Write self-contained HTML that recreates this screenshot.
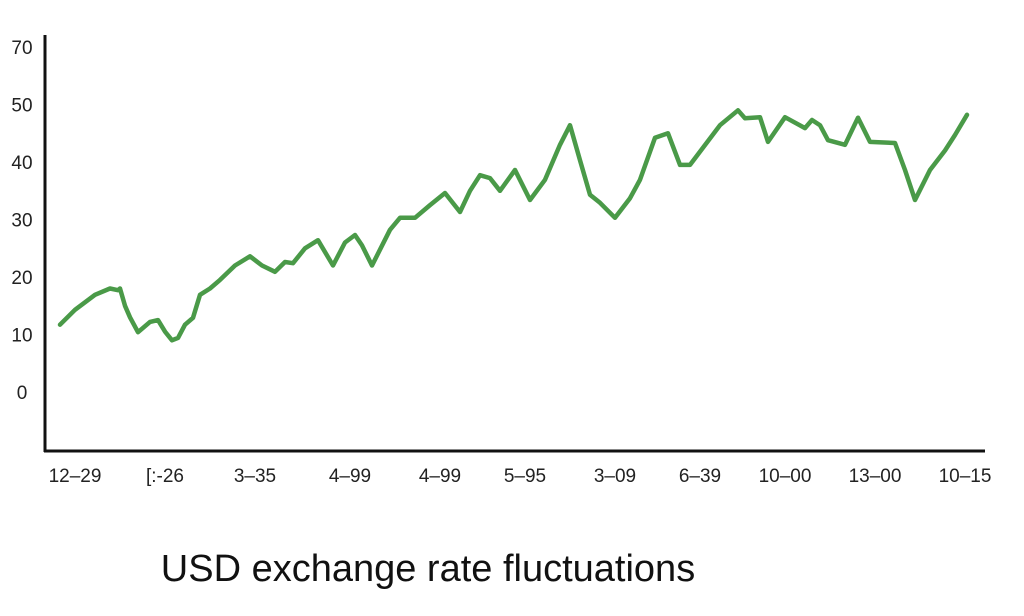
<!DOCTYPE html>
<html><head><meta charset="utf-8"><style>
html,body{margin:0;padding:0;background:#fff;}
svg{display:block;font-family:"Liberation Sans",sans-serif;}
</style></head><body>
<svg id="chart" width="1024" height="616" viewBox="0 0 1024 616">
<rect width="1024" height="616" fill="#fff"/>
<g id="axes"></g>
<g id="plot"></g>
<text x="428" y="581" text-anchor="middle" font-size="38" fill="#111">USD exchange rate fluctuations</text>
</svg>
<script>
const yTicks=[0,10,20,30,40,50,60];
const yTickLabels=["0","10","20","30","40","50","70"];
const xTickLabels=["12–29","[:-26","3–35","4–99","4–99","5–95","3–09","6–39","10–00","13–00","10–15"];
const xTickPos=[15,105,195,290,380,465,555,640,725,815,905];
const tValues=[0,15,35,50,58,60,65,70,78,90,98,105,112,118,125,133,140,150,160,175,190,202,215,225,233,245,258,273,285,295,302,312,330,340,355,370,385,400,410,420,430,440,455,470,485,500,510,520,530,540,555,570,580,595,608,620,630,660,678,685,700,708,725,745,752,760,768,785,798,810,835,845,855,870,885,895,907];
const rates=[11.7,14.3,16.9,18,17.7,18,15,13,10.4,12.2,12.5,10.5,9,9.4,11.7,12.9,16.9,18,19.5,22,23.6,22,20.9,22.6,22.4,25,26.4,22,26,27.3,25.5,22,28.2,30.3,30.3,32.5,34.6,31.3,35,37.7,37.2,35,38.6,33.4,36.9,43,46.4,40.3,34.3,32.9,30.3,33.7,36.9,44.2,45,39.5,39.5,46.4,49,47.6,47.8,43.5,47.8,45.9,47.3,46.4,43.8,43,47.7,43.5,43.3,38.6,33.4,38.6,42,44.7,48.2];
const NS="http://www.w3.org/2000/svg";
const X0=60,PX=1;
function xScale(t){return X0+t*PX;}
function yScale(v){return 392-v*5.75;}
const axes=document.getElementById('axes'),plot=document.getElementById('plot');
function mk(tag,attrs,parent){const e=document.createElementNS(NS,tag);for(const k in attrs)e.setAttribute(k,attrs[k]);parent.appendChild(e);return e;}
const ya=mk('line',{x1:45,y1:35,x2:45,y2:452,stroke:'#111','stroke-width':3},axes);


const xa=mk('line',{x1:44,y1:451,x2:985,y2:451,stroke:'#111','stroke-width':3},axes);


yTicks.forEach((v,i)=>{
  const t=mk('text',{x:22,y:yScale(v)+7,'text-anchor':'middle','font-size':19,fill:'#222'},axes);
  t.textContent=yTickLabels[i];
  
  
});
xTickLabels.forEach((l,i)=>{
  const t=mk('text',{x:xScale(xTickPos[i]),y:482,'text-anchor':'middle','font-size':19,fill:'#222'},axes);
  t.textContent=l;
  
  
});
const d=rates.map((v,i)=>(i?'L':'M')+xScale(tValues[i]).toFixed(1)+','+yScale(v).toFixed(1)).join(' ');
const line=mk('path',{d:d,fill:'none',stroke:'#4a9a48','stroke-width':4.5,'stroke-linejoin':'round','stroke-linecap':'round'},plot);


</script>
</body></html>
